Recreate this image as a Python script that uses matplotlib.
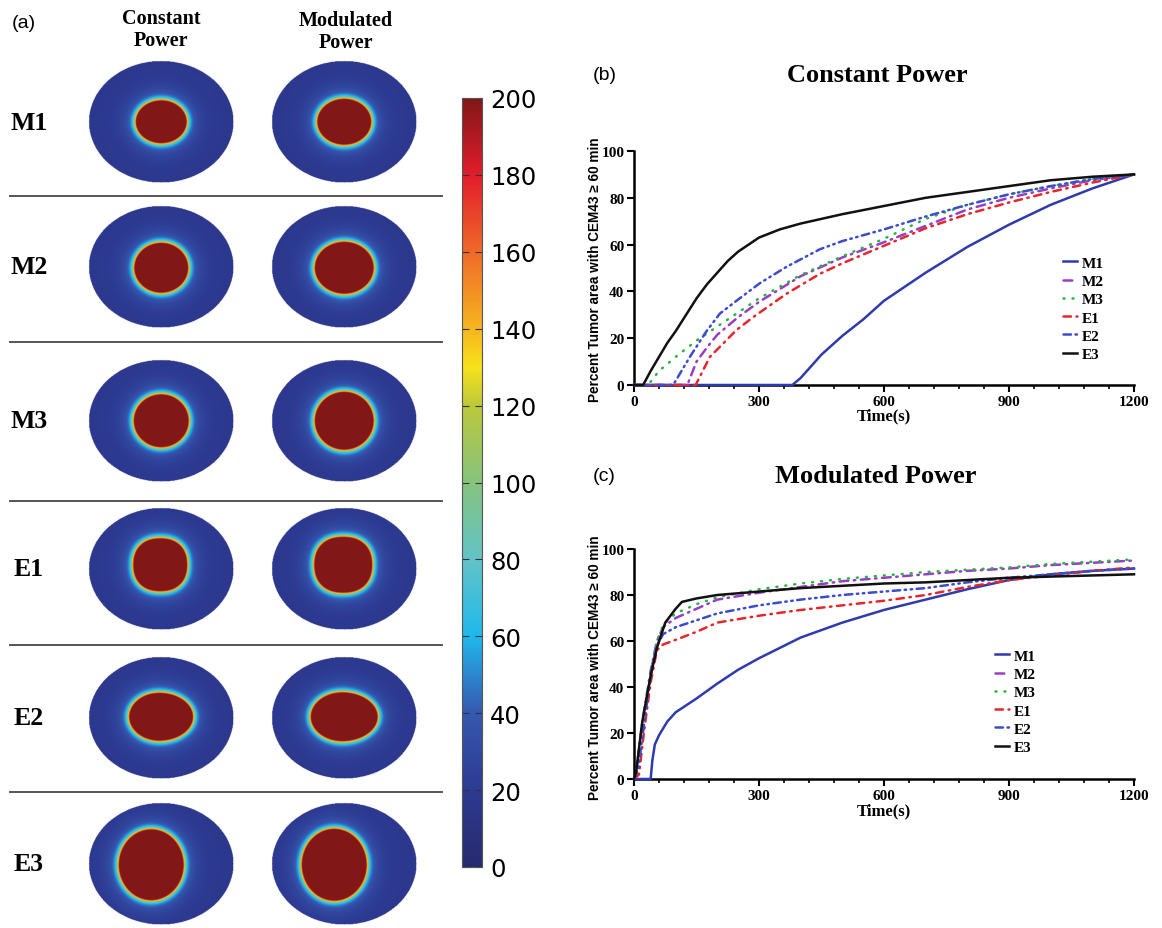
import numpy as np
import matplotlib
matplotlib.use("Agg")
import matplotlib.pyplot as plt
from matplotlib.colors import LinearSegmentedColormap
from matplotlib.lines import Line2D
from matplotlib.cm import ScalarMappable
from matplotlib.colors import Normalize

W, H = 1162, 929
SERIF = ["Liberation Serif", "DejaVu Serif"]
SANS = ["Liberation Sans", "DejaVu Sans"]

# ---- panel (a): thermal maps -------------------------------------------
rows = ["M1", "M2", "M3", "E1", "E2", "E3"]
# tumour semi-axes (px) for constant / modulated power
const_rx = [25.0, 26.5, 27.0, 26.5, 31.5, 32.0]
const_ry = [21.0, 24.5, 26.0, 26.0, 23.5, 35.0]
mod_rx = [26.5, 29.0, 29.0, 28.5, 33.0, 32.0]
mod_ry = [22.5, 25.5, 28.5, 27.5, 24.0, 35.5]
# centre offset of the tumour in the domain (px), squareness, egg skew
tumor_dx = [0, 0, 0, -1, -2, -10]
tumor_dy = [0, -1, 0, 4, 1, -1]
tumor_p = [2.0, 2.0, 2.0, 2.3, 2.0, 2.0]
tumor_skew = [0.0, 0.0, 0.0, 0.0, -0.06, 0.0]

cbar_ticks = list(range(0, 201, 20))
cbar_pos = [0, 20, 40, 60, 80, 100, 120, 130, 140, 160, 180, 200]
cbar_colors = ["#282a6e", "#2d3a92", "#3658b0", "#1fb8ec", "#62c3c8", "#86c37e",
               "#bcc83a", "#f7e21c", "#f6b51f", "#ef6a2a", "#e21d2b", "#821718"]

# ---- panels (b) and (c): curves ----------------------------------------
series = ["M1", "M2", "M3", "E1", "E2", "E3"]
colors = ["#2f3aae", "#9a3dc6", "#22b83c", "#e5272b", "#3c4cce", "#111111"]
styles = ["-", (0, (3.5, 2.2, 0.6, 2.2)), (0, (0.4, 3.2)), (0, (3, 2.2, 0.6, 2.2)),
          (0, (3, 1.8, 0.6, 1.8, 0.6, 1.8)), "-"]

const_t = {
    "M1": [0, 380, 400, 450, 500, 550, 600, 650, 700, 800, 900, 1000, 1100, 1200],
    "M2": [0, 128, 150, 175, 200, 250, 300, 350, 400, 450, 500, 600, 700, 800, 900, 1000, 1100, 1200],
    "M3": [0, 34, 60, 100, 150, 200, 250, 300, 350, 400, 450, 500, 600, 700, 800, 900, 1000, 1100, 1200],
    "E1": [0, 148, 182, 246, 286, 366, 446, 500, 600, 700, 800, 900, 1000, 1100, 1200],
    "E2": [0, 94, 134, 174, 206, 246, 302, 366, 446, 500, 600, 700, 800, 900, 1000, 1100, 1200],
    "E3": [0, 22, 40, 60, 80, 100, 125, 150, 175, 200, 225, 250, 275, 300, 350, 400, 450, 500,
           600, 700, 800, 900, 1000, 1100, 1200],
}
const_v = {
    "M1": [0, 0, 3, 13, 21, 28, 36, 42, 48, 59, 68.5, 77, 84, 90],
    "M2": [0, 0, 10, 16, 21.5, 29, 35.5, 41, 46.5, 50.5, 54.5, 61, 68, 75, 80, 84, 87.5, 90],
    "M3": [0, 0, 6, 12, 19, 25, 31, 37, 42, 47, 51, 55, 62.5, 71, 77, 81.5, 85, 88, 90],
    "E1": [0, 0, 12, 23.5, 29, 39, 47.5, 52, 59.5, 67, 73, 78, 82.5, 86.5, 90],
    "E2": [0, 0, 12, 23, 30.5, 36, 43.5, 50.5, 58, 61.5, 66.5, 72, 77, 81.5, 85, 88, 90],
    "E3": [0, 0, 6, 12, 18, 23, 30, 37, 43, 48, 53, 57, 60, 63, 66.5, 69, 71, 73,
           76.5, 80, 82.5, 85, 87.5, 89, 90],
}
mod_t = {
    "M1": [0, 40, 44, 50, 60, 80, 100, 150, 200, 250, 300, 400, 500, 600, 700, 800, 900, 1000, 1100, 1200],
    "M2": [0, 5, 20, 40, 55, 70, 100, 150, 200, 300, 400, 500, 600, 700, 800, 900, 1000, 1100, 1200],
    "M3": [0, 5, 20, 40, 55, 70, 100, 150, 200, 300, 400, 500, 600, 700, 800, 900, 1000, 1100, 1200],
    "E1": [0, 12, 25, 40, 55, 70, 100, 150, 200, 300, 400, 500, 600, 700, 800, 900, 1000, 1100, 1200],
    "E2": [0, 10, 25, 40, 55, 70, 100, 150, 200, 300, 400, 500, 600, 700, 800, 900, 1000, 1100, 1200],
    "E3": [0, 5, 20, 40, 55, 75, 100, 115, 150, 200, 300, 400, 500, 600, 700, 800, 900, 1000, 1100, 1200],
}
mod_v = {
    "M1": [0, 0, 8, 15, 19, 25, 29, 35, 41.5, 47.5, 52.5, 61.5, 68, 73.5, 78, 82.5, 86.5, 89, 90.5, 91.5],
    "M2": [0, 2, 25, 47, 60, 66, 70, 74, 78, 81, 83.5, 86, 87.5, 89, 90.5, 91.5, 93, 94, 95],
    "M3": [0, 3, 25, 47, 60, 67, 72, 76, 79, 82.5, 85, 87, 88.5, 90, 91, 92, 93.5, 94.5, 95.5],
    "E1": [0, 2, 22, 42, 56, 58.5, 60.5, 64, 68, 71, 73.5, 75.5, 77.5, 80, 83.5, 86.5, 88.5, 90.5, 92],
    "E2": [0, 4, 25, 45, 58, 63, 66, 69, 72, 75.5, 78, 80, 81.5, 83, 85.5, 87.5, 89, 90.5, 91.5],
    "E3": [0, 3, 25, 45, 57, 68, 74, 77, 78.5, 80, 81.5, 83, 84, 85, 85.5, 86.5, 87.5, 88, 88.5, 89],
}


def box(l, t, r, b):
    return [l / W, 1 - b / H, (r - l) / W, (b - t) / H]


def tumor_field(rx, ry, dx, dy, p, skew):
    yy, xx = np.mgrid[-65:65:0.5, -80:80:0.5]
    x = xx - dx
    y = yy - dy
    sx = rx * (1 - skew * np.sign(x))
    rho = ((np.abs(x) / sx) ** p + (np.abs(y) / ry) ** p) ** (1 / p)
    r = np.hypot(x, y)
    d = np.where(rho > 1, r * (1 - 1 / np.maximum(rho, 1e-6)), 0)
    T = 18 + 140 * np.exp(-d / 2.0) + 42 * np.exp(-d / 9.0)
    T = np.where(rho <= 1, 205, T)
    outside = (xx / 72.5) ** 2 + (yy / 61.0) ** 2 > 1
    return np.ma.masked_where(outside, T)


cmap = LinearSegmentedColormap.from_list(
    "thermal", [(p / 200, c) for p, c in zip(cbar_pos, cbar_colors)])
cmap.set_bad((1, 1, 1, 0))
norm = Normalize(0, 200)

fig = plt.figure(figsize=(W / 100, H / 100), dpi=100)

row_cy = [123, 268, 422, 570, 719, 865]
col_cx = [161, 344]
for i, name in enumerate(rows):
    for j, (rxs, rys) in enumerate([(const_rx, const_ry), (mod_rx, mod_ry)]):
        cx, cy = col_cx[j], row_cy[i]
        ax = fig.add_axes(box(cx - 80, cy - 65, cx + 80, cy + 65))
        field = tumor_field(rxs[i], rys[i], tumor_dx[i], tumor_dy[i], tumor_p[i], tumor_skew[i])
        ax.imshow(field, cmap=cmap, norm=norm, origin="lower",
                  extent=[-80, 80, -65, 65], interpolation="bilinear")
        ax.set_axis_off()
    fig.text(29 / W, 1 - row_cy[i] / H, name, family=SERIF, weight="bold",
             fontsize=18.5, ha="center", va="center")

for y in [197, 343, 502, 646, 793]:
    fig.add_artist(Line2D([10 / W, 442 / W], [1 - y / H, 1 - y / H],
                          color="#555555", lw=1.4))

fig.text(12 / W, 1 - 23 / H, "(a)", family=SANS, fontsize=14, va="center")
fig.text(161 / W, 1 - 30 / H, "Constant\nPower", family=SERIF, weight="bold",
         fontsize=14.5, ha="center", va="center", linespacing=1.15)
fig.text(346 / W, 1 - 32 / H, "Modulated\nPower", family=SERIF, weight="bold",
         fontsize=14.5, ha="center", va="center", linespacing=1.15)

cax = fig.add_axes(box(462, 99, 482, 868))
cb = fig.colorbar(ScalarMappable(norm=norm, cmap=cmap), cax=cax, ticks=cbar_ticks)
cb.outline.set_edgecolor("#555555")
cb.outline.set_linewidth(0.8)
cax.tick_params(direction="in", length=5, width=0.8, color="#333333",
                left=True, right=True, labelsize=17.5, pad=6)
for lab in cax.get_yticklabels():
    lab.set_family("DejaVu Sans")


# ---- line panels ----
def line_panel(rect, ts, vs, title, tag, title_x, title_y, leg_xy, ylab_y, xlab_y):
    ax = fig.add_axes(rect)
    for s, c, ls in zip(series, colors, styles):
        ax.plot(ts[s], vs[s], color=c, linestyle=ls, lw=1.8, label=s,
                dash_capstyle="round", clip_on=False, zorder=3)
    ax.set_xlim(0, 1200)
    ax.set_ylim(0, 100)
    ax.set_xticks([0, 300, 600, 900, 1200])
    ax.set_xticks(np.arange(0, 1201, 60), minor=True)
    ax.set_yticks([0, 20, 40, 60, 80, 100])
    for side in ["top", "right"]:
        ax.spines[side].set_visible(False)
    for side in ["left", "bottom"]:
        ax.spines[side].set_linewidth(1.8)
    ax.tick_params(which="major", length=5, width=1.5, labelsize=11, pad=2)
    ax.tick_params(which="minor", axis="x", length=3, width=1.2)
    for lab in ax.get_xticklabels() + ax.get_yticklabels():
        lab.set_family(SERIF)
        lab.set_weight("bold")
    fig.text(884 / W, 1 - xlab_y / H, "Time(s)", family=SERIF, weight="bold",
             fontsize=12, ha="center", va="center")
    ax.legend(loc="upper left", bbox_to_anchor=(leg_xy[0] / W, 1 - leg_xy[1] / H),
              bbox_transform=fig.transFigure, frameon=False, handlelength=0.9,
              handletextpad=0.35, labelspacing=0.3, borderpad=0, borderaxespad=0,
              prop={"family": SERIF, "weight": "bold", "size": 11})
    fig.text(title_x / W, 1 - title_y / H, title, family=SERIF, weight="bold",
             fontsize=19, ha="center", va="center")
    fig.text(593 / W, 1 - title_y / H, tag, family=SANS, fontsize=14, va="center")
    fig.text(595 / W, 1 - ylab_y / H, "Percent Tumor area with CEM43 \u2265 60 min",
             family=SANS, weight="bold", fontsize=9.8, rotation=90,
             ha="center", va="center")
    return ax


line_panel(box(634, 152, 1134, 386), const_t, const_v, "Constant Power", "(b)",
           877, 75, (1063, 257), 270, 416)
line_panel(box(634, 550, 1134, 780), mod_t, mod_v, "Modulated Power", "(c)",
           876, 477, (995, 650), 668, 811)

fig.savefig("out.png", dpi=100)
